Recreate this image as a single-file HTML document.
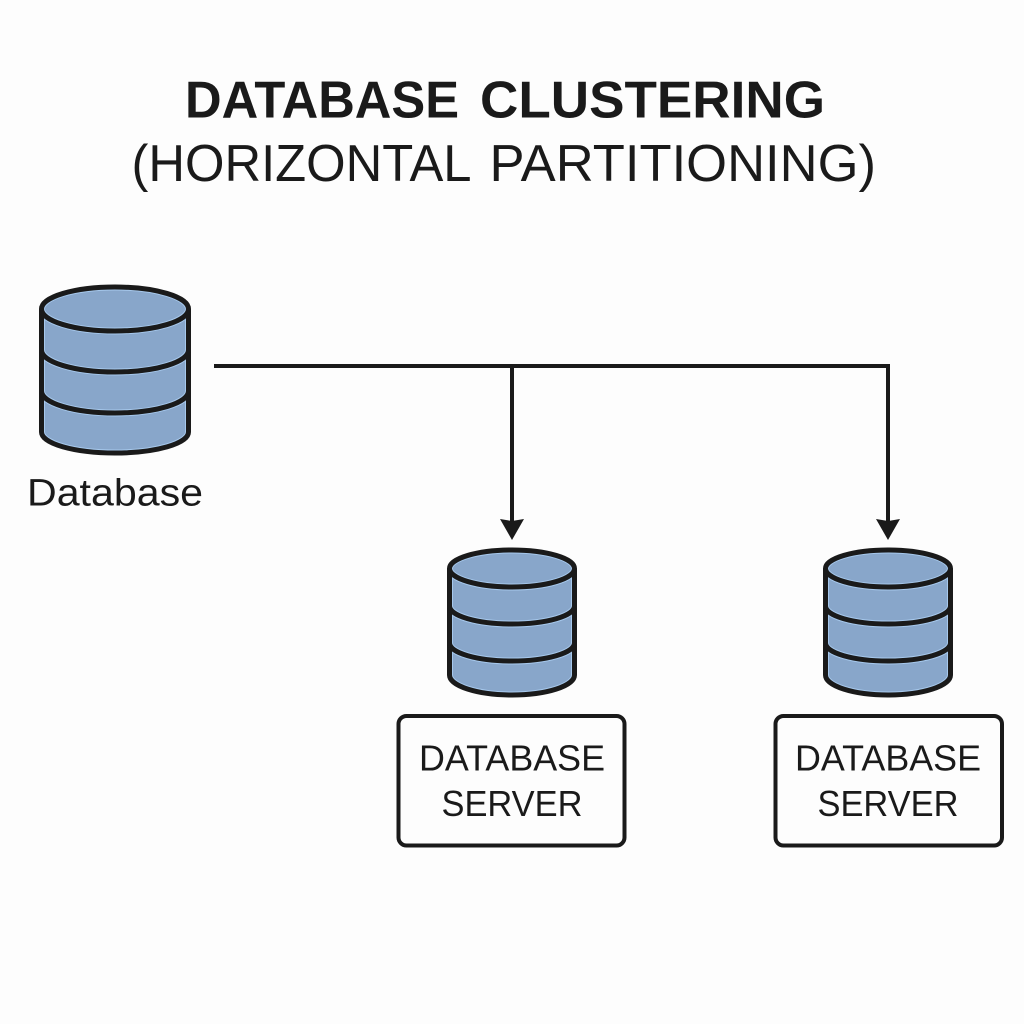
<!DOCTYPE html>
<html>
<head>
<meta charset="utf-8">
<style>
html,body{margin:0;padding:0;background:#fdfdfd;width:1024px;height:1024px;overflow:hidden}
svg{display:block}
text{font-family:"Liberation Sans",sans-serif;fill:#1a1a1a}
</style>
</head>
<body>
<svg width="1024" height="1024" viewBox="0 0 1024 1024" xmlns="http://www.w3.org/2000/svg">
<defs>
<clipPath id="cb"><path d="M41.500 309 A73.500 22 0 0 1 188.500 309 V432 A73.500 21 0 0 1 41.500 432 Z"/></clipPath>
<clipPath id="cs"><path d="M-62.500 568.500 A62.500 18.500 0 0 1 62.500 568.500 V675 A62.500 20 0 0 1 -62.500 675 Z"/></clipPath>
<g id="small">
<path d="M-62.500 568.500 A62.500 18.500 0 0 1 62.500 568.500 V675 A62.500 20 0 0 1 -62.500 675 Z" fill="#88a6ca"/>
<g clip-path="url(#cs)" fill="none" stroke="#a6c8ec" stroke-width="7">
<path d="M-62.500 568.500 A62.500 18.500 0 0 1 62.500 568.500 V675 A62.500 20 0 0 1 -62.500 675 Z"/>
<path d="M-62.500 568.500 A62.500 18.500 0 0 0 62.500 568.500"/>
<path d="M-62.500 606 A62.500 18 0 0 0 62.500 606"/>
<path d="M-62.500 643 A62.500 18 0 0 0 62.500 643"/>
</g>
<g fill="none" stroke="#1a1a1a" stroke-width="5">
<path d="M-62.500 568.500 A62.500 18.500 0 0 1 62.500 568.500 V675 A62.500 20 0 0 1 -62.500 675 Z"/>
<path d="M-62.500 568.500 A62.500 18.500 0 0 0 62.500 568.500"/>
<path d="M-62.500 606 A62.500 18 0 0 0 62.500 606"/>
<path d="M-62.500 643 A62.500 18 0 0 0 62.500 643"/>
</g>
</g>
</defs>
<rect width="1024" height="1024" fill="#fdfdfd"/>

<text x="185" y="117.500" font-size="52" font-weight="700" textLength="274" lengthAdjust="spacingAndGlyphs">DATABASE</text>
<text x="480" y="117.500" font-size="52" font-weight="700" textLength="345" lengthAdjust="spacingAndGlyphs">CLUSTERING</text>
<text x="131.500" y="181" font-size="52" textLength="340" lengthAdjust="spacingAndGlyphs">(HORIZONTAL</text>
<text x="489.500" y="181" font-size="52" textLength="386.500" lengthAdjust="spacingAndGlyphs">PARTITIONING)</text>

<!-- big db -->
<path d="M41.500 309 A73.500 22 0 0 1 188.500 309 V432 A73.500 21 0 0 1 41.500 432 Z" fill="#88a6ca"/>
<g clip-path="url(#cb)" fill="none" stroke="#a6c8ec" stroke-width="7">
<path d="M41.500 309 A73.500 22 0 0 1 188.500 309 V432 A73.500 21 0 0 1 41.500 432 Z"/>
<path d="M41.500 309 A73.500 22 0 0 0 188.500 309"/>
<path d="M41.500 350 A73.500 22 0 0 0 188.500 350"/>
<path d="M41.500 391 A73.500 22 0 0 0 188.500 391"/>
</g>
<g fill="none" stroke="#1a1a1a" stroke-width="5">
<path d="M41.500 309 A73.500 22 0 0 1 188.500 309 V432 A73.500 21 0 0 1 41.500 432 Z"/>
<path d="M41.500 309 A73.500 22 0 0 0 188.500 309"/>
<path d="M41.500 350 A73.500 22 0 0 0 188.500 350"/>
<path d="M41.500 391 A73.500 22 0 0 0 188.500 391"/>
</g>
<text x="115" y="505.500" text-anchor="middle" font-size="38" textLength="176" lengthAdjust="spacingAndGlyphs">Database</text>

<!-- connectors -->
<g stroke="#1a1a1a" stroke-width="4" fill="none">
<path d="M214 366 H888 V524"/>
<path d="M512 366 V524"/>
</g>
<polygon points="500,519 512,521 524,519 512,540" fill="#1a1a1a"/>
<polygon points="876,519 888,521 900,519 888,540" fill="#1a1a1a"/>

<!-- small dbs -->
<use href="#small" transform="translate(512 0)"/>
<use href="#small" transform="translate(888 0)"/>

<!-- boxes -->
<rect x="398.500" y="716" width="226" height="129.500" rx="8" fill="#fdfdfd" stroke="#1a1a1a" stroke-width="4"/>
<rect x="775.500" y="716" width="226.500" height="129.500" rx="8" fill="#fdfdfd" stroke="#1a1a1a" stroke-width="4"/>
<text x="512" y="770.500" text-anchor="middle" font-size="36" textLength="186" lengthAdjust="spacingAndGlyphs">DATABASE</text>
<text x="512" y="816" text-anchor="middle" font-size="36" textLength="141" lengthAdjust="spacingAndGlyphs">SERVER</text>
<text x="888" y="770.500" text-anchor="middle" font-size="36" textLength="186" lengthAdjust="spacingAndGlyphs">DATABASE</text>
<text x="888" y="816" text-anchor="middle" font-size="36" textLength="141" lengthAdjust="spacingAndGlyphs">SERVER</text>
</svg>
</body>
</html>
